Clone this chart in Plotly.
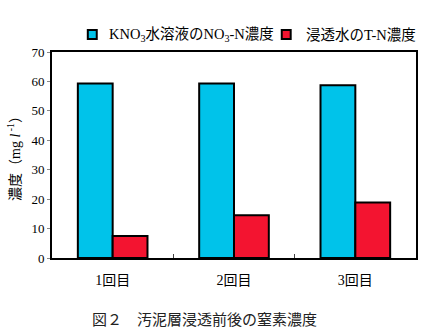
import plotly.graph_objects as go

categories = ["1回目", "2回目", "3回目"]
kno3_no3n = [59.3, 59.3, 58.7]
leachate_tn = [7.5, 14.5, 18.9]
y_ticks = [0, 10, 20, 30, 40, 50, 60, 70]

series_names = ["KNO<sub>3</sub>水溶液のNO<sub>3</sub>-N濃度", "浸透水のT-N濃度"]
series_colors = ["#00c3ea", "#f31430"]

FONT = "Liberation Serif, Times New Roman, Noto Sans CJK JP, serif"

# plot-area geometry in pixels (used to place the legend row in paper units)
L, R, T, B, W, H = 52, 4, 52, 74, 422, 332
PW, PH = W - L - R, H - T - B


def px_x(p):
    return (p - L) / PW


def px_y(p):
    return (H - B - p) / PH


fig = go.Figure()
for name, vals, col in zip(series_names, [kno3_no3n, leachate_tn], series_colors):
    fig.add_bar(
        x=categories, y=vals, name=name,
        marker=dict(color=col, line=dict(color="black", width=2)),
    )

fig.update_layout(
    width=W, height=H,
    margin=dict(l=L, r=R, t=T, b=B),
    paper_bgcolor="white", plot_bgcolor="white",
    barmode="group", bargap=0.426, bargroupgap=0,
    font=dict(family=FONT, size=12, color="black"),
    showlegend=False,
)
fig.update_xaxes(
    showline=True, linecolor="black", linewidth=2, mirror=True,
    ticks="inside", tickson="boundaries", ticklen=4, tickcolor="#444",
    tickfont=dict(size=14), showgrid=False, ticklabelstandoff=8,
)
fig.update_yaxes(
    range=[0, 70], tickvals=y_ticks, showline=True, linecolor="black",
    linewidth=2, mirror=True, ticks="outside", ticklen=3, tickcolor="#888",
    showgrid=False, zeroline=False, tickfont=dict(size=13),
    title=dict(text="濃度（mg <i>l</i><sup> -1</sup>）", font=dict(size=14), standoff=8),
)

# legend row above the plot: outlined colour swatch followed by its label
legend_items = [(88, 107), (283, 305)]
for (sx, tx), name, col in zip(legend_items, series_names, series_colors):
    fig.add_shape(
        type="rect", xref="paper", yref="paper",
        x0=px_x(sx), x1=px_x(sx + 9), y0=px_y(39), y1=px_y(30),
        fillcolor=col, line=dict(color="black", width=2),
    )
    fig.add_annotation(
        text=name, xref="paper", yref="paper",
        x=px_x(tx), y=px_y(35), xanchor="left", yanchor="middle",
        showarrow=False, font=dict(size=14.5, color="black"),
    )

fig.add_annotation(
    text="図２　汚泥層浸透前後の窒素濃度", xref="paper", yref="paper",
    x=px_x(205), y=px_y(320), xanchor="center", yanchor="middle",
    showarrow=False, font=dict(size=15, color="#222"),
)

fig.write_html("out.html")
